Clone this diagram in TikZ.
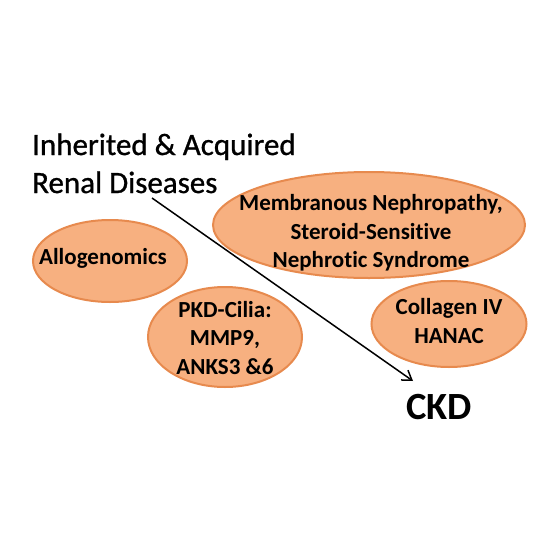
\documentclass[tikz,border=0pt]{standalone}
\usepackage{fontspec}
\setmainfont{Carlito}[Ligatures=NoCommon]
\newfontfamily\titlefont{Carlito}[Ligatures=NoCommon, FakeBold=0.9]
\usetikzlibrary{shapes.geometric,arrows.meta}
\definecolor{ofill}{RGB}{247,176,128}
\definecolor{oline}{RGB}{231,138,78}
\tikzset{
  blob/.style={ellipse, fill=ofill, draw=oline, line width=2pt, inner sep=0pt},
  btext/.style={font=\bfseries\fontsize{23}{28.5}\selectfont, align=center, inner sep=0pt},
  title/.style={font=\titlefont\fontsize{31}{38}\selectfont, align=left, inner sep=0pt},
}
\begin{document}
\begin{tikzpicture}[x=1pt,y=-1pt]
\useasboundingbox (0,0) rectangle (560,560);
\node[title, anchor=base west] (title) at (32,193) {Inherited \& Acquired\\Renal Diseases};
\node[blob, minimum width=312pt, minimum height=106pt] (mn) at (369,225) {};
\node[btext] (mnt) at (371,233) {Membranous Nephropathy,\\Steroid-Sensitive\\Nephrotic Syndrome};
\node[blob, minimum width=154pt, minimum height=82pt] (allo) at (110,261) {};
\node[btext] (allot) at (103,258) {Allogenomics};
\node[blob, minimum width=154pt, minimum height=100pt] (pkd) at (225,337) {};
\node[btext] (pkdt) at (225,338) {PKD-Cilia:\\MMP9,\\ANKS3 \&6};
\node[blob, minimum width=155pt, minimum height=86pt] (col) at (449,324) {};
\node[btext] (colt) at (449,321) {Collagen IV\\HANAC};
\node[font=\bfseries\fontsize{38.5}{40}\selectfont, inner sep=0pt] (ckd) at (439,407) {CKD};
\coordinate (s) at (152,198);
\coordinate (e) at (413,381);
\draw[line width=1.5pt, -{Straight Barb[length=9pt,width=12pt]}] (s) -- (e);
\end{tikzpicture}
\end{document}
